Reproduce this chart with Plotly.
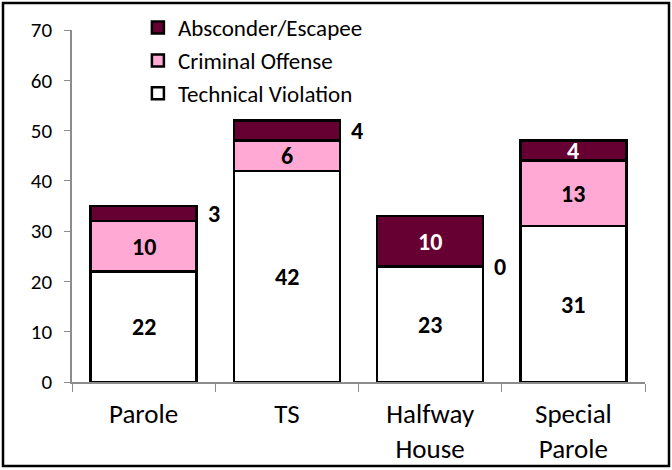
import plotly.graph_objects as go

categories = ["Parole", "TS", "Halfway<br>House", "Special<br>Parole"]
technical = [22, 42, 23, 31]
criminal = [10, 6, 0, 13]
absconder = [3, 4, 10, 4]
# which labels sit outside the bar (to the right)
criminal_outside = [False, False, True, False]
absconder_outside = [True, True, False, False]

FONT = "Carlito, Calibri, Lato, 'Open Sans', sans-serif"
MAROON = "#660033"
PINK = "#FFA9D4"

fig = go.Figure()
fig.add_trace(go.Bar(name="Technical Violation", x=categories, y=technical,
                     marker=dict(color="white", line=dict(color="black", width=2.5))))
fig.add_trace(go.Bar(name="Criminal Offense", x=categories, y=criminal,
                     marker=dict(color=PINK, line=dict(color="black", width=2.5))))
fig.add_trace(go.Bar(name="Absconder/Escapee", x=categories, y=absconder,
                     marker=dict(color=MAROON, line=dict(color="black", width=2.5))))

annotations = []
for i, c in enumerate(categories):
    base = 0
    series = [(technical[i], False, "black"),
              (criminal[i], criminal_outside[i], "black"),
              (absconder[i], absconder_outside[i], "white")]
    for v, outside, col in series:
        yc = base + v / 2
        annotations.append(dict(
            x=c, y=yc, xref="x", yref="y", text="<b>%d</b>" % v, showarrow=False,
            font=dict(size=24, color="black" if outside else col, family=FONT),
            xshift=70 if outside else 0))
        base += v

fig.update_layout(
    barmode="stack",
    bargap=0.26,
    width=672, height=470,
    margin=dict(l=72, r=27, t=30, b=88, autoexpand=False),
    paper_bgcolor="white", plot_bgcolor="white",
    font=dict(family=FONT, color="black"),
    showlegend=True,
    legend=dict(x=0.115, y=1.068, xanchor="left", yanchor="top",
                traceorder="reversed", font=dict(size=23, family=FONT),
                bgcolor="rgba(0,0,0,0)", tracegroupgap=0),
    annotations=annotations,
    shapes=[dict(type="rect", xref="paper", yref="paper",
                 x0=(3 - 72) / 573, x1=(669 - 72) / 573,
                 y0=(382 - 466) / 352, y1=(382 - 3) / 352,
                 line=dict(color="black", width=2.5), fillcolor="rgba(0,0,0,0)")],
)
fig.update_yaxes(range=[0, 70], dtick=10, showgrid=False, showline=True,
                 linecolor="#8c8c8c", linewidth=1.5, ticks="outside", ticklen=6,
                 tickcolor="#8c8c8c", tickfont=dict(size=21, family=FONT),
                 ticklabelstandoff=8, zeroline=False, automargin=False)
fig.update_xaxes(showline=True, linecolor="#8c8c8c", linewidth=1.5,
                 ticks="outside", tickson="boundaries", ticklen=8,
                 tickcolor="#8c8c8c", tickfont=dict(size=27, family=FONT),
                 ticklabelstandoff=7, automargin=False)

fig.write_html("out.html", config={"displayModeBar": False},
               post_script="document.body.style.margin='0px';")
